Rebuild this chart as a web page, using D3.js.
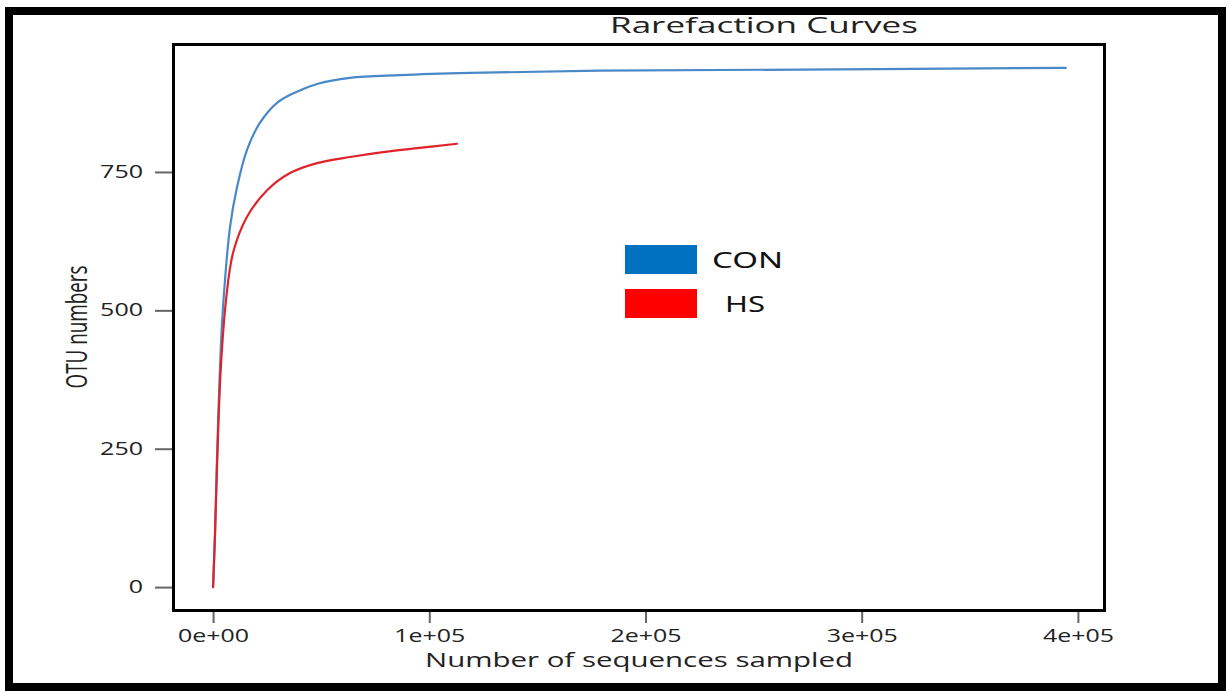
<!DOCTYPE html>
<html>
<head>
<meta charset="utf-8">
<script src="https://cdn.jsdelivr.net/npm/d3@7"></script>
<style>
  body { margin: 0; background: #fff; }
  svg { display: block; }
</style>
</head>
<body>
<svg id="chart" width="1229" height="691"></svg>
<script>
// Rarefaction data
const conSamples = [0, 900, 1700, 3200, 4600, 7860, 11100, 15700, 21700, 29600, 38800, 48100, 63300, 86500, 118800, 178900, 271400, 394400];
const conOtus    = [0, 97, 217, 398, 506, 651, 723, 790, 839, 875, 895, 909, 920, 925, 929, 933, 935, 938];

const hsSamples = [0, 900, 1800, 3500, 6000, 9250, 15700, 25000, 35600, 48100, 63300, 78600, 94300, 112800];
const hsOtus    = [0, 97, 215, 390, 519, 604, 669, 717, 748, 766, 777, 786, 793, 801];

const seriesNames = ["CON", "HS"];
const lineColors = ["#4a89c8", "#e0232b"];
const legendColors = ["#0070c0", "#ff0000"];

const xTicks = [0, 100000, 200000, 300000, 400000];
const yTicks = [0, 250, 500, 750];

const svg = d3.select("#chart");

// outer frame
svg.append("rect")
  .attr("x", 9).attr("y", 11)
  .attr("width", 1213).attr("height", 676)
  .attr("fill", "none")
  .attr("stroke", "#000")
  .attr("stroke-width", 8);

// plot panel
const box = { left: 172, top: 43, right: 1106, bottom: 612 };

const x = d3.scaleLinear().domain([-19000, 413000]).range([box.left, box.right]);
const y = d3.scaleLinear().domain([-45, 983]).range([box.bottom, box.top]);

function sci(d) {
  if (d === 0) return "0e+00";
  const [m, e] = d.toExponential().split("e");
  const n = Math.abs(+e);
  return m + "e" + (+e < 0 ? "-" : "+") + (n < 10 ? "0" + n : n);
}

// y axis
const yAxis = svg.append("g")
  .attr("transform", `translate(${box.left},0)`)
  .call(d3.axisLeft(y).tickValues(yTicks).tickSize(17).tickPadding(12));
yAxis.select(".domain").remove();
yAxis.selectAll("line").attr("stroke", "#666").attr("stroke-width", 2);
yAxis.selectAll("text")
  .attr("fill", "#222")
  .style("font-family", "'Open Sans', sans-serif")
  .style("font-size", "17.5px")
  .attr("textLength", d => String(d).length * 14.3)
  .attr("lengthAdjust", "spacingAndGlyphs");

// x axis
const xAxis = svg.append("g")
  .attr("transform", `translate(0,${box.bottom})`)
  .call(d3.axisBottom(x).tickValues(xTicks).tickFormat(sci).tickSize(11).tickPadding(6));
xAxis.select(".domain").remove();
xAxis.selectAll("line").attr("stroke", "#666").attr("stroke-width", 2);
xAxis.selectAll("text")
  .attr("fill", "#222")
  .style("font-family", "'Open Sans', sans-serif")
  .style("font-size", "18px")
  .attr("textLength", 71)
  .attr("lengthAdjust", "spacingAndGlyphs");

// curves
const line = d3.line()
  .x(d => x(d[0]))
  .y(d => y(d[1]))
  .curve(d3.curveCatmullRom.alpha(0.5));

const series = [
  d3.zip(conSamples, conOtus),
  d3.zip(hsSamples, hsOtus)
];

svg.append("g")
  .selectAll("path")
  .data(series)
  .join("path")
  .attr("d", line)
  .attr("fill", "none")
  .attr("stroke", (d, i) => lineColors[i])
  .attr("stroke-width", 2.2)
  .attr("stroke-linecap", "round");

// panel border on top
svg.append("rect")
  .attr("x", box.left + 1.5).attr("y", box.top + 1.5)
  .attr("width", box.right - box.left - 3)
  .attr("height", box.bottom - box.top - 3)
  .attr("fill", "none")
  .attr("stroke", "#000")
  .attr("stroke-width", 3);

// titles
svg.append("text")
  .attr("x", 764).attr("y", 33)
  .attr("text-anchor", "middle")
  .attr("fill", "#222")
  .style("font-family", "'Open Sans', sans-serif")
  .style("font-size", "22px")
  .attr("textLength", 308)
  .attr("lengthAdjust", "spacingAndGlyphs")
  .text("Rarefaction Curves");

svg.append("text")
  .attr("x", 639).attr("y", 667)
  .attr("text-anchor", "middle")
  .attr("fill", "#222")
  .style("font-family", "'Open Sans', sans-serif")
  .style("font-size", "20px")
  .attr("textLength", 428)
  .attr("lengthAdjust", "spacingAndGlyphs")
  .text("Number of sequences sampled");

svg.append("text")
  .attr("transform", "translate(87,327) rotate(-90)")
  .attr("text-anchor", "middle")
  .attr("fill", "#222")
  .style("font-family", "'Open Sans', sans-serif")
  .style("font-size", "30px")
  .attr("textLength", 123)
  .attr("lengthAdjust", "spacingAndGlyphs")
  .text("OTU numbers");

// legend
const legend = svg.append("g").attr("transform", "translate(625,245)");
const item = legend.selectAll("g")
  .data(seriesNames)
  .join("g")
  .attr("transform", (d, i) => `translate(0,${i * 44})`);

item.append("rect")
  .attr("width", 72).attr("height", 29)
  .attr("fill", (d, i) => legendColors[i]);

item.append("text")
  .attr("x", (d, i) => i === 0 ? 87 : 100)
  .attr("y", 23)
  .attr("fill", "#111")
  .style("font-family", "'Noto Sans', sans-serif")
  .style("font-size", "21px")
  .attr("textLength", (d, i) => i === 0 ? 71 : 40)
  .attr("lengthAdjust", "spacingAndGlyphs")
  .text(d => d);
</script>
</body>
</html>
